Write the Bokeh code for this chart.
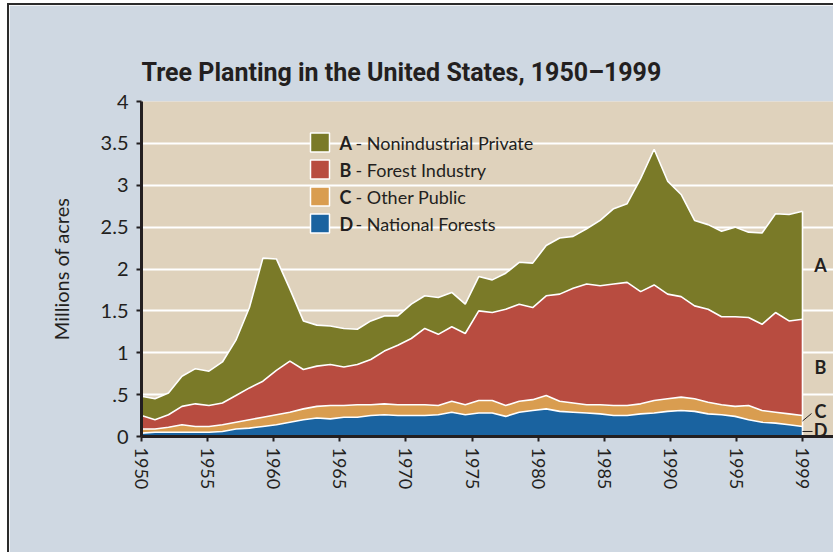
import numpy as np
from bokeh.plotting import figure
from bokeh.models import (ColumnDataSource, Range1d, FixedTicker, CustomJSTickFormatter,
                          Label, BoxAnnotation)
from bokeh.embed import file_html
from bokeh.resources import INLINE

# ---------------- data (millions of acres) ----------------
years = list(range(1950, 2000))

national_forests = [0.04, 0.05, 0.05, 0.05, 0.05, 0.05, 0.06, 0.09, 0.10, 0.12,
                    0.14, 0.17, 0.20, 0.22, 0.21, 0.23, 0.23, 0.25, 0.26, 0.25,
                    0.25, 0.25, 0.26, 0.29, 0.26, 0.28, 0.28, 0.24, 0.29, 0.31,
                    0.33, 0.30, 0.29, 0.28, 0.27, 0.25, 0.25, 0.27, 0.28, 0.30,
                    0.31, 0.30, 0.27, 0.26, 0.24, 0.20, 0.17, 0.16, 0.14, 0.12]
other_public = [0.05, 0.04, 0.06, 0.09, 0.07, 0.07, 0.08, 0.08, 0.10, 0.11,
                0.12, 0.12, 0.13, 0.14, 0.16, 0.14, 0.15, 0.13, 0.13, 0.13,
                0.13, 0.13, 0.11, 0.13, 0.12, 0.15, 0.15, 0.13, 0.13, 0.13,
                0.16, 0.12, 0.11, 0.10, 0.11, 0.12, 0.12, 0.12, 0.15, 0.15,
                0.16, 0.15, 0.14, 0.12, 0.12, 0.17, 0.14, 0.13, 0.13, 0.13]
forest_industry = [0.16, 0.11, 0.15, 0.22, 0.27, 0.25, 0.26, 0.32, 0.38, 0.43,
                   0.53, 0.61, 0.47, 0.48, 0.49, 0.46, 0.48, 0.54, 0.63, 0.71,
                   0.79, 0.91, 0.85, 0.89, 0.85, 1.07, 1.05, 1.15, 1.16, 1.10,
                   1.19, 1.28, 1.37, 1.44, 1.42, 1.45, 1.47, 1.34, 1.38, 1.25,
                   1.20, 1.11, 1.11, 1.05, 1.07, 1.05, 1.03, 1.19, 1.11, 1.15]
nonindustrial_private = [0.23, 0.25, 0.26, 0.36, 0.42, 0.41, 0.49, 0.66, 0.96, 1.47,
                         1.33, 0.86, 0.58, 0.49, 0.46, 0.46, 0.42, 0.46, 0.42, 0.35,
                         0.41, 0.39, 0.44, 0.41, 0.35, 0.41, 0.39, 0.43, 0.50, 0.53,
                         0.60, 0.67, 0.62, 0.66, 0.78, 0.90, 0.94, 1.35, 1.62, 1.35,
                         1.22, 1.02, 1.01, 1.02, 1.07, 1.02, 1.09, 1.18, 1.27, 1.29]

letters = ["A", "B", "C", "D"]
names = ["Nonindustrial Private", "Forest Industry", "Other Public", "National Forests"]
colors = ["#7a7a28", "#b84c40", "#d99d50", "#1a63a0"]   # A, B, C, D

y_ticks = [0, 0.5, 1, 1.5, 2, 2.5, 3, 3.5, 4]
y_tick_labels = ["0", ".5", "1", "1.5", "2", "2.5", "3", "3.5", "4"]
x_tick_labels = ["1950", "1955", "1960", "1965", "1970", "1975",
                 "1980", "1985", "1990", "1995", "1999"]

# ---------------- styling constants ----------------
TEXT = "#231f20"
OUTER_BG = "#cfd8e2"
PLOT_BG = "#dfd2bc"
FONT = "Lato"

ORIGIN_X, ORIGIN_Y = 9, 5          # page position of the figure's content box
W, H = 835 - ORIGIN_X, 554 - ORIGIN_Y
FRAME_LEFT_PX, FRAME_TOP_PX, FRAME_H = 141, 101, 335
B_LEFT = FRAME_LEFT_PX - ORIGIN_X
B_TOP = FRAME_TOP_PX - ORIGIN_Y
B_BOTTOM = H - B_TOP - FRAME_H
FRAME_W = W - B_LEFT
PX_PER_YEAR = 13.49
X_END = 1950 + FRAME_W / PX_PER_YEAR
FRAME_BOTTOM_PX = FRAME_TOP_PX + FRAME_H
PX_PER_UNIT = FRAME_H / 4.0


def px2x(px):
    return 1950 + (px - FRAME_LEFT_PX) / PX_PER_YEAR


def py2y(py):
    return (FRAME_BOTTOM_PX - py) / PX_PER_UNIT


src = ColumnDataSource(dict(year=years, D=national_forests, C=other_public,
                            B=forest_industry, A=nonindustrial_private))

p = figure(width=W, height=H, x_range=Range1d(1950, X_END), y_range=Range1d(0, 4),
           output_backend="svg", toolbar_location=None,
           min_border_left=B_LEFT, min_border_right=0, min_border_top=B_TOP,
           min_border_bottom=B_BOTTOM)
p.styles = {"border-left": "2px solid #2b2b2b", "border-top": "2px solid #2b2b2b",
            "margin-left": "7px", "margin-top": "3px"}
p.background_fill_color = PLOT_BG
p.border_fill_color = OUTER_BG
p.outline_line_color = None

# title
p.title.text = "Tree Planting in the United States, 1950\u20131999"
p.title.text_font = "Roboto"
p.title.text_font_style = "bold"
p.title.text_font_size = "25px"
p.title.text_color = TEXT
p.title.align = "left"
p.title.offset = 0
p.title.standoff = 29

stack = ["D", "C", "B", "A"]
p.varea_stack(stackers=stack, x="year", color=colors[::-1], source=src)
p.vline_stack(stackers=stack, x="year", color="white", line_width=1.6, source=src)

total_last = national_forests[-1] + other_public[-1] + forest_industry[-1] + nonindustrial_private[-1]
p.segment(x0=[years[-1]], y0=[0], x1=[years[-1]], y1=[total_last], color="white", line_width=1.6)

# grid
p.xgrid.visible = False
p.ygrid.ticker = FixedTicker(ticks=y_ticks)
p.ygrid.grid_line_color = "white"
p.ygrid.grid_line_width = 2
p.ygrid.level = "underlay"

# axes
x_tick_pos = list(np.linspace(1950, 1999, len(x_tick_labels)))
fmt_code = """
let best = 0;
for (let i = 0; i < pos.length; i++) {
  if (Math.abs(pos[i] - tick) < Math.abs(pos[best] - tick)) best = i;
}
return labels[best];
"""
p.xaxis.ticker = FixedTicker(ticks=x_tick_pos)
p.xaxis.formatter = CustomJSTickFormatter(args=dict(pos=x_tick_pos, labels=x_tick_labels), code=fmt_code)
p.yaxis.ticker = FixedTicker(ticks=y_ticks)
p.yaxis.formatter = CustomJSTickFormatter(args=dict(pos=y_ticks, labels=y_tick_labels), code=fmt_code)
p.xaxis.major_label_orientation = "vertical"

for ax in (p.xaxis[0], p.yaxis[0]):
    ax.axis_line_color = TEXT
    ax.axis_line_width = 3
    ax.major_tick_line_color = TEXT
    ax.major_tick_line_width = 2
    ax.major_tick_out = 5
    ax.major_tick_in = 0
    ax.minor_tick_line_color = None
    ax.major_label_text_font = FONT
    ax.major_label_text_color = TEXT

p.xaxis.major_label_standoff = 6
p.yaxis.major_label_standoff = 8
p.xaxis.major_label_text_font_size = "18px"
p.yaxis.major_label_text_font_size = "20px"
p.yaxis.axis_label = "Millions of acres"
p.yaxis.axis_label_text_font = FONT
p.yaxis.axis_label_text_font_size = "20px"
p.yaxis.axis_label_text_font_style = "normal"
p.yaxis.axis_label_text_color = TEXT
p.yaxis.axis_label_standoff = 25

# legend (drawn by hand: swatch, bold letter, name)
row_centers_px = [142, 169, 196, 223]
for letter, name, col, cy in zip(letters, names, colors, row_centers_px):
    p.add_layout(BoxAnnotation(left=px2x(310), right=px2x(329), top=py2y(cy - 9.5),
                               bottom=py2y(cy + 9.5), fill_color=col, fill_alpha=1,
                               line_color="white", line_width=1.5, line_alpha=1))
    p.add_layout(Label(x=px2x(339), y=py2y(cy), text=letter,
                       text_font=FONT, text_font_style="bold", text_font_size="18px",
                       text_color=TEXT, text_baseline="middle", text_align="left"))
    p.add_layout(Label(x=px2x(355), y=py2y(cy), text="- " + name,
                       text_font=FONT, text_font_size="18px", text_color=TEXT,
                       text_baseline="middle", text_align="left"))

# right-hand band labels
d_last, c_last, b_last, a_last = (national_forests[-1], other_public[-1],
                                  forest_industry[-1], nonindustrial_private[-1])
a_mid = d_last + c_last + b_last + a_last / 2
b_mid = d_last + c_last + b_last / 2
c_mid = d_last + c_last / 2
d_mid = d_last / 2
lab_x = px2x(820)
for txt, yv in (("A", a_mid), ("B", b_mid), ("C", py2y(410)), ("D", py2y(429))):
    p.add_layout(Label(x=lab_x, y=yv, text=txt, text_font=FONT, text_font_style="bold",
                       text_font_size="18px", text_color=TEXT,
                       text_baseline="middle", text_align="center"))
p.segment(x0=[years[-1]], y0=[c_mid], x1=[px2x(811)], y1=[py2y(413)], color=TEXT, line_width=1)
p.segment(x0=[years[-1]], y0=[d_mid], x1=[px2x(812)], y1=[d_mid], color=TEXT, line_width=1)

open("out.html", "w").write(file_html(p, INLINE))
